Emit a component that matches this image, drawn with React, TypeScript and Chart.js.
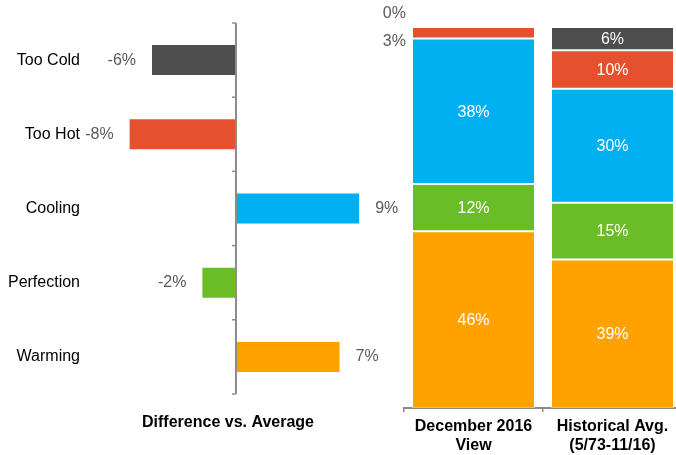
import React, { useEffect, useRef } from "react";
import { Chart, registerables } from "chart.js";

Chart.register(...registerables);

// ---- Data ----
const diffCategories = ["Too Cold", "Too Hot", "Cooling", "Perfection", "Warming"];
const diffValues = [-6.0, -7.6, 8.8, -2.4, 7.4];
const diffColors = ["#4d4d4d", "#e5512f", "#00b0f0", "#6bbd28", "#ffa200"];
const diffAxisTitle = "Difference vs. Average";

const stackCategories = [["December 2016", "View"], ["Historical Avg.", "(5/73-11/16)"]];
const warmingValues = [46.4, 39.0];
const perfectionValues = [12.4, 14.9];
const coolingValues = [38.2, 29.9];
const tooHotValues = [3.0, 10.1];
const tooColdValues = [0.0, 6.1];

const FONT = "'Liberation Sans', Arial, sans-serif";

const zeroAxisPlugin = {
  id: "zeroAxis",
  afterDatasetsDraw(chart: any) {
    const { ctx, chartArea, scales } = chart;
    const x = scales.x.getPixelForValue(0);
    const n = chart.data.labels.length;
    const h = (chartArea.bottom - chartArea.top) / n;
    ctx.save();
    ctx.strokeStyle = "#8c8c8c";
    ctx.lineWidth = 2;
    ctx.beginPath();
    ctx.moveTo(x, chartArea.top);
    ctx.lineTo(x, chartArea.bottom);
    ctx.stroke();
    ctx.lineWidth = 1.5;
    for (let i = 0; i <= n; i++) {
      const y = chartArea.top + i * h;
      ctx.beginPath();
      ctx.moveTo(x - 4, y);
      ctx.lineTo(x, y);
      ctx.stroke();
    }
    ctx.restore();
  },
};

const diffLabelPlugin = {
  id: "diffLabels",
  afterDatasetsDraw(chart: any) {
    const { ctx } = chart;
    const meta = chart.getDatasetMeta(0);
    const data = chart.data.datasets[0].data;
    ctx.save();
    ctx.font = `16px ${FONT}`;
    ctx.fillStyle = "#595959";
    ctx.textBaseline = "middle";
    meta.data.forEach((el: any, i: number) => {
      const v = data[i];
      const txt = `${Math.round(v)}%`;
      if (v < 0) {
        ctx.textAlign = "right";
        ctx.fillText(txt, el.x - 16, el.y);
      } else {
        ctx.textAlign = "left";
        ctx.fillText(txt, el.x + 16, el.y);
      }
    });
    ctx.restore();
  },
};

const stackLabelPlugin = {
  id: "stackLabels",
  afterDatasetsDraw(chart: any) {
    const { ctx } = chart;
    const ds = chart.data.datasets;
    const nCat = chart.data.labels.length;
    ctx.save();
    ctx.font = `16px ${FONT}`;
    ctx.textBaseline = "middle";
    for (let j = 0; j < nCat; j++) {
      let smallIdx = 0;
      for (let i = ds.length - 1; i >= 0; i--) {
        const el: any = chart.getDatasetMeta(i).data[j];
        const v = ds[i].data[j];
        const txt = `${Math.round(v)}%`;
        if (v >= 5) {
          ctx.fillStyle = "#ffffff";
          ctx.textAlign = "center";
          ctx.fillText(txt, el.x, (el.y + el.base) / 2 + 1);
        } else {
          const topEl: any = chart.getDatasetMeta(ds.length - 1).data[j];
          const left = el.x - el.width / 2;
          ctx.fillStyle = "#595959";
          ctx.textAlign = "right";
          ctx.fillText(txt, left - 6, topEl.y - 13 + smallIdx * 27.5);
          smallIdx++;
        }
      }
    }
    ctx.restore();
  },
};

export default function App() {
  const leftRef = useRef<HTMLCanvasElement>(null);
  const rightRef = useRef<HTMLCanvasElement>(null);

  useEffect(() => {
    const left = new Chart(leftRef.current as HTMLCanvasElement, {
      type: "bar",
      data: {
        labels: diffCategories,
        datasets: [
          {
            data: diffValues,
            backgroundColor: diffColors,
            borderWidth: 0,
            barPercentage: 0.404,
            categoryPercentage: 1,
          },
        ],
      },
      options: {
        indexAxis: "y",
        animation: false,
        responsive: false,
        devicePixelRatio: 1,
        layout: { padding: { top: 23, right: 34, bottom: 23, left: 0 } },
        plugins: { legend: { display: false }, tooltip: { enabled: false } },
        scales: {
          x: {
            min: -10.43,
            max: 9.29,
            ticks: { display: false },
            grid: { display: false, drawTicks: false },
            border: { display: false },
            title: {
              display: true,
              text: diffAxisTitle,
              color: "#000",
              font: { family: FONT, size: 16, weight: "bold" },
              padding: 0,
            },
            afterFit: (s: any) => {
              s.height = 38;
            },
          },
          y: {
            ticks: { color: "#000", font: { family: FONT, size: 16 }, padding: 10 },
            grid: { display: false, drawTicks: false },
            border: { display: false },
            afterFit: (s: any) => {
              s.width = 90;
            },
          },
        },
      } as any,
      plugins: [zeroAxisPlugin, diffLabelPlugin],
    });

    const mk = (label: string, data: number[], color: string) => ({
      label,
      data,
      backgroundColor: color,
      borderColor: "rgba(255,255,255,0.45)",
      borderWidth: 1,
      borderSkipped: false,
      barPercentage: 0.885,
      categoryPercentage: 1,
    });

    const right = new Chart(rightRef.current as HTMLCanvasElement, {
      type: "bar",
      data: {
        labels: stackCategories as any,
        datasets: [
          mk("Warming", warmingValues, diffColors[4]),
          mk("Perfection", perfectionValues, diffColors[3]),
          mk("Cooling", coolingValues, diffColors[2]),
          mk("Too Hot", tooHotValues, diffColors[1]),
          mk("Too Cold", tooColdValues, diffColors[0]),
        ],
      },
      options: {
        animation: false,
        responsive: false,
        devicePixelRatio: 1,
        layout: { padding: { top: 27, right: 8, bottom: 0, left: 44 } },
        plugins: { legend: { display: false }, tooltip: { enabled: false } },
        scales: {
          x: {
            stacked: true,
            ticks: { color: "#000", font: { family: FONT, size: 16, weight: "bold" }, padding: 5 },
            grid: {
              display: true,
              drawOnChartArea: false,
              drawTicks: true,
              tickLength: 4,
              color: "#8c8c8c",
              lineWidth: 1.5,
              offset: true,
            },
            border: { display: true, color: "#8c8c8c", width: 2 },
            afterFit: (s: any) => {
              s.height = 47;
            },
          },
          y: {
            stacked: true,
            display: false,
            min: 0,
            max: 100,
          },
        },
      } as any,
      plugins: [stackLabelPlugin],
    });

    return () => {
      left.destroy();
      right.destroy();
    };
  }, []);

  return (
    <div
      style={{
        position: "fixed",
        left: 0,
        top: 0,
        width: 676,
        height: 455,
        overflow: "hidden",
        background: "#fff",
      }}
    >
      <canvas
        ref={leftRef}
        width={400}
        height={455}
        style={{ position: "absolute", left: 0, top: 0, width: 400, height: 455 }}
      />
      <canvas
        ref={rightRef}
        width={330}
        height={455}
        style={{ position: "absolute", left: 360, top: 0, width: 330, height: 455 }}
      />
    </div>
  );
}
